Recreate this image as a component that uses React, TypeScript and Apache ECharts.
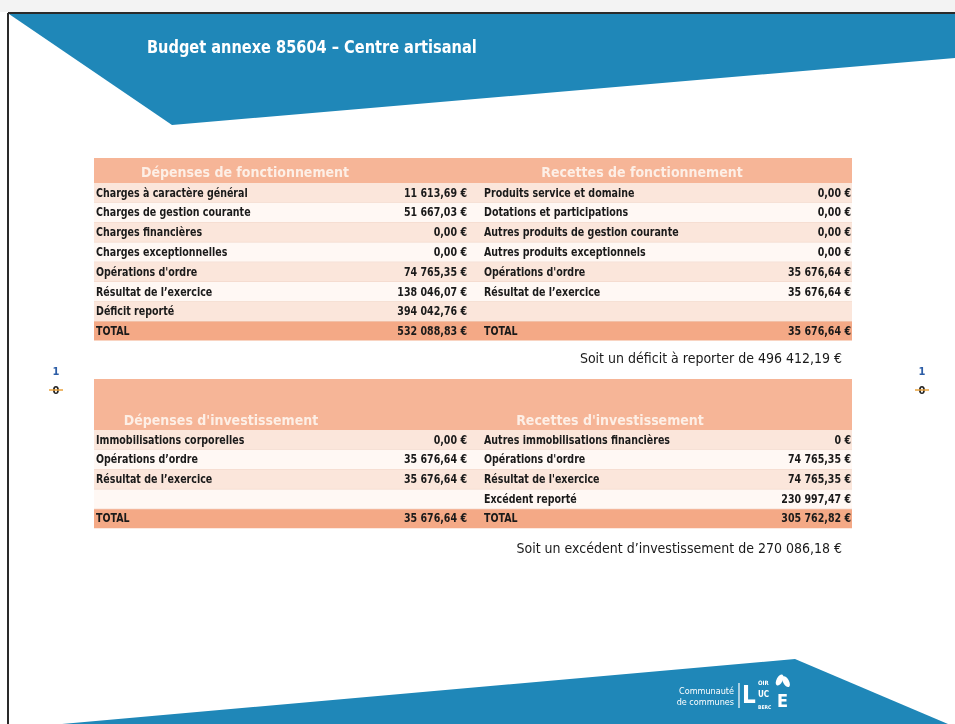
import React, { useEffect, useRef } from "react";
import * as echarts from "echarts";

// ---------- DATA ----------
const title = "Budget annexe 85604 – Centre artisanal";

const depFonctHeader = "Dépenses de fonctionnement";
const depFonctLabels = [
  "Charges à caractère général",
  "Charges de gestion courante",
  "Charges financières",
  "Charges exceptionnelles",
  "Opérations d'ordre",
  "Résultat de l’exercice",
  "Déficit reporté",
];
const depFonctValues = [11613.69, 51667.03, 0, 0, 74765.35, 138046.07, 394042.76];
const depFonctTotal = 532088.83;

const recFonctHeader = "Recettes de fonctionnement";
const recFonctLabels = [
  "Produits service et domaine",
  "Dotations et participations",
  "Autres produits de gestion courante",
  "Autres produits exceptionnels",
  "Opérations d'ordre",
  "Résultat de l’exercice",
];
const recFonctValues = [0, 0, 0, 0, 35676.64, 35676.64];
const recFonctTotal = 35676.64;
const deficitAReporter = 496412.19;

const depInvHeader = "Dépenses d'investissement";
const depInvLabels = ["Immobilisations corporelles", "Opérations d’ordre", "Résultat de l’exercice"];
const depInvValues = [0, 35676.64, 35676.64];
const depInvTotal = 35676.64;

const recInvHeader = "Recettes d'investissement";
const recInvLabels = [
  "Autres immobilisations financières",
  "Opérations d'ordre",
  "Résultat de l'exercice",
  "Excédent reporté",
];
const recInvValues = [0, 74765.35, 74765.35, 230997.47];
const recInvDecimals = [0, 2, 2, 2];
const recInvTotal = 305762.82;
const excedentInvest = 270086.18;

// ---------- FORMAT ----------
function fmt(v: number, dec = 2): string {
  const fixed = v.toFixed(dec);
  const [intPart, decPart] = fixed.split(".");
  const grouped = intPart.replace(/\B(?=(\d{3})+(?!\d))/g, " ");
  return (decPart ? grouped + "," + decPart : grouped) + " €";
}

// ---------- STYLE ----------
const FONT = "'Liberation Sans Narrow', 'DejaVu Sans Condensed', sans-serif";
const BLUE = "#1f87b8";
const HEADER_BG = "#f6b597";
const TOTAL_BG = "#f4a986";
const ROW_A = "#fbe6db";
const ROW_B = "#fff8f4";
const ROW_LINE = "#efd3c4";
const HEADER_TXT = "#fdefe6";

const TX = 94;
const TW = 758;
const LEFT_LABEL_X = 96;
const LEFT_VALUE_X = 467;
const RIGHT_LABEL_X = 484;
const RIGHT_VALUE_X = 851;
const ROW_H = 19.8;
const CELL_SIZE = 12;
const CELL_SCALE = 0.88;

function txt(x: number, y: number, text: string, opts: any = {}) {
  return {
    type: "text",
    x,
    y,
    scaleX: opts.scaleX || 1,
    silent: true,
    style: {
      text,
      fill: opts.fill || "#1a1a1a",
      font: `${opts.weight || "bold"} ${opts.size || CELL_SIZE}px ${FONT}`,
      textAlign: opts.align || "left",
      textVerticalAlign: "middle",
    },
  };
}

function cell(x: number, y: number, text: string, align = "left") {
  return txt(x, y, text, { align, scaleX: CELL_SCALE });
}

function buildTable(
  top: number,
  headerH: number,
  headerY: number,
  leftHeaderX: number,
  rightHeaderX: number,
  leftHeader: string,
  rightHeader: string,
  leftLabels: string[],
  leftValues: number[],
  leftTotal: number,
  rightLabels: string[],
  rightValues: number[],
  rightDecimals: number[] | null,
  rightTotal: number
) {
  const els: any[] = [];
  const nRows = Math.max(leftLabels.length, rightLabels.length);
  els.push({ type: "rect", shape: { x: TX, y: top, width: TW, height: headerH }, style: { fill: HEADER_BG }, silent: true });
  els.push(txt(leftHeaderX, headerY, leftHeader, { size: 14, fill: HEADER_TXT, align: "center", weight: "bold" }));
  els.push(txt(rightHeaderX, headerY, rightHeader, { size: 14, fill: HEADER_TXT, align: "center", weight: "bold" }));
  const y0 = top + headerH;
  for (let i = 0; i < nRows; i++) {
    const y = y0 + i * ROW_H;
    els.push({ type: "rect", shape: { x: TX, y, width: TW, height: ROW_H }, style: { fill: i % 2 === 0 ? ROW_A : ROW_B }, silent: true });
    els.push({ type: "line", shape: { x1: TX, y1: y + ROW_H, x2: TX + TW, y2: y + ROW_H }, style: { stroke: ROW_LINE, lineWidth: 1 }, silent: true });
    const cy = y + ROW_H / 2;
    if (i < leftLabels.length) {
      els.push(cell(LEFT_LABEL_X, cy, leftLabels[i]));
      els.push(cell(LEFT_VALUE_X, cy, fmt(leftValues[i]), "right"));
    }
    if (i < rightLabels.length) {
      els.push(cell(RIGHT_LABEL_X, cy, rightLabels[i]));
      els.push(cell(RIGHT_VALUE_X, cy, fmt(rightValues[i], rightDecimals ? rightDecimals[i] : 2), "right"));
    }
  }
  const ty = y0 + nRows * ROW_H;
  els.push({ type: "rect", shape: { x: TX, y: ty, width: TW, height: 19 }, style: { fill: TOTAL_BG }, silent: true });
  const tcy = ty + 9.5;
  els.push(cell(LEFT_LABEL_X, tcy, "TOTAL"));
  els.push(cell(LEFT_VALUE_X, tcy, fmt(leftTotal), "right"));
  els.push(cell(RIGHT_LABEL_X, tcy, "TOTAL"));
  els.push(cell(RIGHT_VALUE_X, tcy, fmt(rightTotal), "right"));
  return els;
}

function pageMarks(x: number) {
  return [
    txt(x, 371, "1", { fill: "#2c5da6", size: 11, align: "center", weight: "bold" }),
    txt(x, 390, "0", { fill: "#222", size: 11, align: "center", weight: "bold" }),
    { type: "line", shape: { x1: x - 7, y1: 390, x2: x + 7, y2: 390 }, style: { stroke: "#e9a23c", lineWidth: 1.5 }, silent: true },
  ];
}

export default function App() {
  const ref = useRef<HTMLDivElement>(null);
  useEffect(() => {
    if (!ref.current) return;
    const chart = echarts.init(ref.current, undefined, { renderer: "svg" });
    const graphic: any[] = [
      { type: "rect", shape: { x: 0, y: 0, width: 955, height: 724 }, style: { fill: "#ffffff" }, silent: true },
      { type: "rect", shape: { x: 0, y: 0, width: 955, height: 12 }, style: { fill: "#f3f3f3" }, silent: true },
      // top banner
      { type: "polygon", shape: { points: [[9, 14], [955, 14], [955, 58], [172, 125]] }, style: { fill: BLUE }, silent: true },
      txt(147, 47, title, { fill: "#ffffff", size: 18, weight: "bold", scaleX: 0.9 }),
      // bottom banner
      { type: "polygon", shape: { points: [[62, 724], [795, 659], [948, 724]] }, style: { fill: BLUE }, silent: true },
      txt(734, 691, "Communauté", { fill: "#ffffff", size: 9, weight: "normal", align: "right" }),
      txt(734, 702, "de communes", { fill: "#ffffff", size: 9, weight: "normal", align: "right" }),
      { type: "line", shape: { x1: 739, y1: 683, x2: 739, y2: 708 }, style: { stroke: "#ffffff", lineWidth: 1.2 }, silent: true },
      txt(742, 695, "L", { fill: "#ffffff", size: 24, weight: "bold" }),
      txt(758, 682, "OIR", { fill: "#ffffff", size: 6, weight: "bold" }),
      txt(758, 694, "UC", { fill: "#ffffff", size: 8, weight: "bold" }),
      txt(758, 707, "BERC", { fill: "#ffffff", size: 5, weight: "bold" }),
      txt(777, 700, "E", { fill: "#ffffff", size: 18, weight: "bold" }),
      { type: "ellipse", shape: { cx: 779, cy: 680, rx: 3, ry: 6 }, rotation: -0.5, originX: 779, originY: 680, style: { fill: "#ffffff" }, silent: true },
      { type: "ellipse", shape: { cx: 786, cy: 681, rx: 3, ry: 6 }, rotation: 0.5, originX: 786, originY: 681, style: { fill: "#ffffff" }, silent: true },
      // border
      { type: "line", shape: { x1: 8, y1: 13, x2: 955, y2: 13 }, style: { stroke: "#2a2a2a", lineWidth: 2 }, silent: true },
      { type: "line", shape: { x1: 8, y1: 13, x2: 8, y2: 724 }, style: { stroke: "#2a2a2a", lineWidth: 2 }, silent: true },
      ...buildTable(158, 25, 172, 245, 642, depFonctHeader, recFonctHeader,
        depFonctLabels, depFonctValues, depFonctTotal,
        recFonctLabels, recFonctValues, null, recFonctTotal),
      txt(842, 358, "Soit un déficit à reporter de " + fmt(deficitAReporter), { size: 14, weight: "normal", align: "right" }),
      ...buildTable(379, 51, 420, 221, 610, depInvHeader, recInvHeader,
        depInvLabels, depInvValues, depInvTotal,
        recInvLabels, recInvValues, recInvDecimals, recInvTotal),
      txt(842, 548, "Soit un excédent d’investissement de " + fmt(excedentInvest), { size: 14, weight: "normal", align: "right" }),
      ...pageMarks(56),
      ...pageMarks(922),
    ];
    chart.setOption({ animation: false, graphic });
    return () => chart.dispose();
  }, []);
  return <div ref={ref} style={{ position: "fixed", left: 0, top: 0, width: 955, height: 724 }} />;
}
